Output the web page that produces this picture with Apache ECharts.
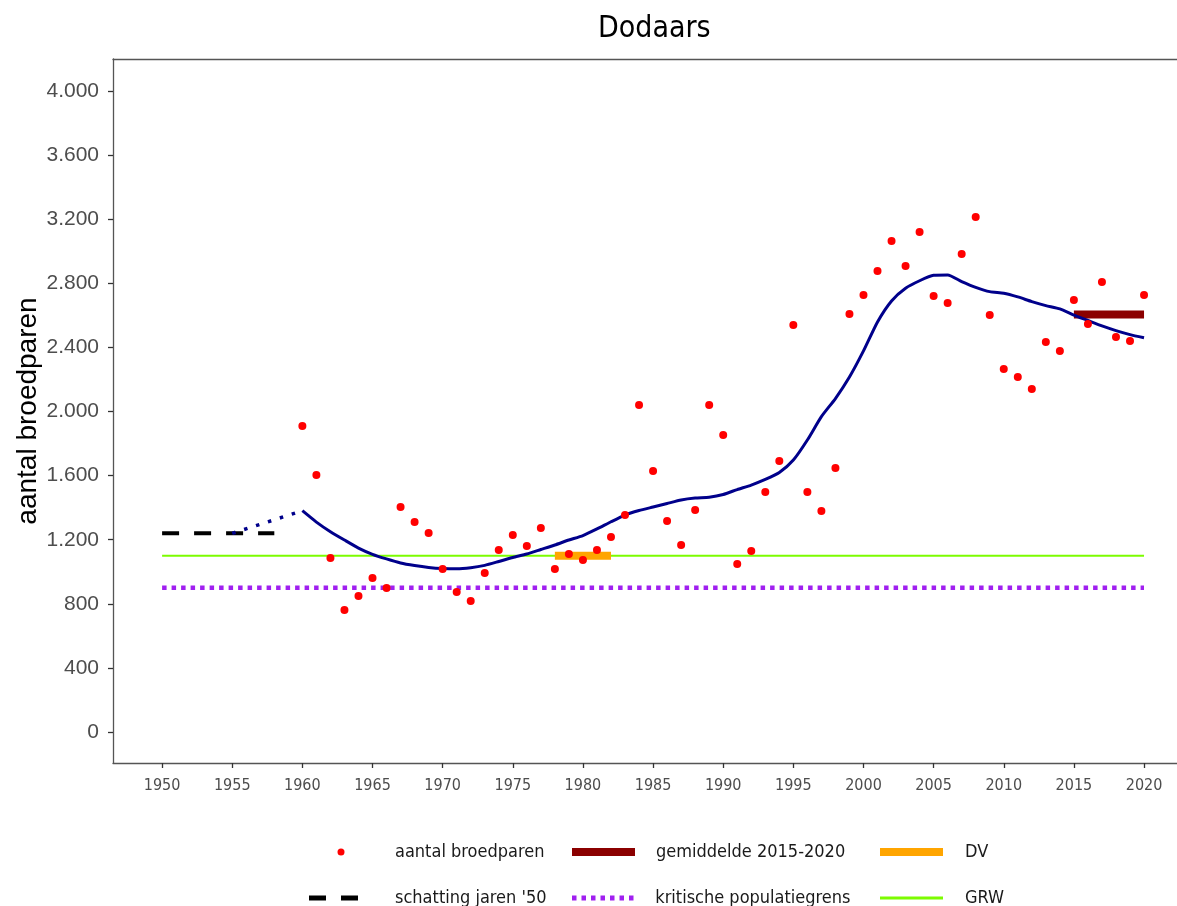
<!DOCTYPE html>
<html>
<head>
    <meta charset="utf-8">
    <title>Dodaars</title>
    <script src="https://cdn.jsdelivr.net/npm/echarts@6/dist/echarts.min.js"></script>
    <style>
        html, body { margin: 0; padding: 0; background: #fff; }
    </style>
</head>
<body>
    <div id="main" style="width: 1177px;height:906px;"></div>
    <script type="text/javascript">
        // telling aantal broedparen per jaar, vanaf 1960
        var startJaar = 1960;
        var broedparen = [1910, 1604, 1086, 761, 849, 961, 899, 1404, 1310, 1242,
            1017, 874, 817, 992, 1136, 1229, 1161, 1273, 1017, 1111,
            1073, 1136, 1217, 1354, 2040, 1629, 1317, 1167, 1385, 2040,
            1853, 1048, 1130, 1498, 1691, 2540, 1498, 1379, 1647, 2608,
            2727, 2877, 3064, 2908, 3120, 2721, 2677, 2983, 3214, 2602,
            2265, 2215, 2140, 2434, 2377, 2696, 2546, 2808, 2465, 2440, 2727];
        var trend = [1381, 1310, 1250, 1198, 1148, 1109, 1080, 1055, 1039, 1027,
            1020, 1018, 1025, 1040, 1064, 1089, 1111, 1139, 1167, 1198,
            1226, 1267, 1312, 1354, 1382, 1404, 1426, 1448, 1460, 1465,
            1482, 1513, 1541, 1576, 1619, 1697, 1822, 1968, 2081, 2215,
            2378, 2559, 2690, 2769, 2816, 2850, 2852, 2811, 2775, 2748,
            2738, 2715, 2686, 2661, 2640, 2602, 2568, 2534, 2505, 2480, 2460];

        var schattingJaren = [1950, 1958];
        var schattingWaarde = 1240;
        var overgangJaren = [1955, 1960];
        var overgangWaarden = [1240, 1381];
        var gemiddeldeJaren = [2015, 2020];
        var gemiddelde = 2605;
        var dvJaren = [1978, 1982];
        var dv = 1100;
        var grensJaren = [1950, 2020];
        var kritisch = 900;
        var grw = 1100;

        var xTicks = [1950, 1955, 1960, 1965, 1970, 1975, 1980, 1985, 1990, 1995, 2000, 2005, 2010, 2015, 2020];
        var yTicks = [0, 400, 800, 1200, 1600, 2000, 2400, 2800, 3200, 3600, 4000];

        var FONT_C = "'DejaVu Sans Condensed', 'DejaVu Sans', sans-serif";
        var FONT_A = "'Liberation Sans', Arial, sans-serif";

        function punten(jaren, waarden) {
            var arr = [];
            for (var i = 0; i < jaren.length; i++) {
                arr.push([jaren[i], waarden[i]]);
            }
            return arr;
        }
        function vlak(jaren, waarde) {
            return [[jaren[0], waarde], [jaren[1], waarde]];
        }

        var metingen = broedparen.map(function (v, i) { return [startJaar + i, v]; });
        var trendData = trend.map(function (v, i) { return [startJaar + i, v]; });

        // een legenda per item; left = linkerkant van het zichtbare icoon
        function legenda(naam, icon, left, midY, w, h) {
            return {
                data: [{name: naam, icon: icon}],
                left: left,
                top: midY - 8,
                padding: 0,
                itemWidth: w,
                itemHeight: h,
                selectedMode: false,
                itemStyle: {borderWidth: 0},
                textStyle: {fontFamily: FONT_C, fontSize: 18, color: '#1a1a1a'}
            };
        }
        var stippel = 'path://';
        for (var k = 0; k < 7; k++) {
            stippel += 'M' + (k * 9.5) + ',0h4.5v5h-4.5z';
        }

        var myChart = echarts.init(document.getElementById('main'));
        var option = {
            backgroundColor: '#fff',
            animation: false,
            title: {
                text: 'Dodaars',
                left: 593,
                top: 9,
                textStyle: {fontFamily: FONT_C, fontSize: 30, fontWeight: 'normal', color: '#000'}
            },
            grid: {left: 113, right: 0, top: 59, bottom: 143},
            legend: [
                legenda('aantal broedparen', 'circle', 337.5, 851, 98, 7),
                legenda('gemiddelde 2015-2020', 'path://M0,0h63v8h-63z', 572, 851, 95, 8),
                legenda('DV', 'path://M0,0h63v8h-63z', 880, 851, 97, 8),
                legenda('schatting jaren \'50', 'path://M0,0h17v5h-17zM32,0h17v5h-17z', 309, 897, 113, 5),
                legenda('kritische populatiegrens', stippel, 572, 897, 95, 5),
                legenda('GRW', 'path://M0,0h63v3h-63z', 880, 897, 97, 3)
            ],
            xAxis: [{
                type: 'value',
                min: 1946.5,
                max: 2022.35,
                axisLine: {show: true, onZero: false, lineStyle: {color: '#555', width: 1.3}},
                axisTick: {show: true, length: 5, customValues: xTicks, lineStyle: {color: '#333', width: 1.3}},
                axisLabel: {
                    customValues: xTicks,
                    margin: 15,
                    fontFamily: FONT_C,
                    fontSize: 16,
                    color: '#4d4d4d',
                    formatter: function (v) { return String(v); }
                },
                splitLine: {show: false}
            }, {
                // bovenrand van het paneel
                type: 'value',
                position: 'top',
                min: 1946.5,
                max: 2022.35,
                axisLine: {show: true, onZero: false, lineStyle: {color: '#555', width: 1.3}},
                axisTick: {show: false},
                axisLabel: {show: false},
                splitLine: {show: false}
            }],
            yAxis: {
                type: 'value',
                min: -193.4,
                max: 4199.7,
                name: 'aantal broedparen',
                nameLocation: 'middle',
                nameGap: 71,
                nameMoveOverlap: false,
                nameTextStyle: {fontFamily: FONT_A, fontSize: 28, color: '#000'},
                axisLine: {show: true, onZero: false, lineStyle: {color: '#555', width: 1.3}},
                axisTick: {show: true, length: 5, customValues: yTicks, lineStyle: {color: '#333', width: 1.3}},
                axisLabel: {
                    customValues: yTicks,
                    margin: 14,
                    padding: [4, 0, 0, 0],
                    fontFamily: FONT_A,
                    fontSize: 21,
                    color: '#4d4d4d',
                    formatter: function (v) {
                        return String(v).replace(/\B(?=(\d{3})+(?!\d))/g, '.');
                    }
                },
                splitLine: {show: false}
            },
            series: [{
                name: 'GRW',
                type: 'line',
                data: vlak(grensJaren, grw),
                symbol: 'none',
                itemStyle: {color: '#7CFC00'},
                lineStyle: {color: '#7CFC00', width: 2},
                z: 2
            }, {
                name: 'kritische populatiegrens',
                type: 'line',
                data: vlak(grensJaren, kritisch),
                symbol: 'none',
                itemStyle: {color: '#A020F0'},
                lineStyle: {color: '#A020F0', width: 4.5, type: [4.5, 5], cap: 'butt'},
                z: 2
            }, {
                name: 'DV',
                type: 'line',
                data: vlak(dvJaren, dv),
                symbol: 'none',
                itemStyle: {color: '#FFA500'},
                lineStyle: {color: '#FFA500', width: 8, cap: 'butt'},
                z: 3
            }, {
                name: 'gemiddelde 2015-2020',
                type: 'line',
                data: vlak(gemiddeldeJaren, gemiddelde),
                symbol: 'none',
                itemStyle: {color: '#8B0000'},
                lineStyle: {color: '#8B0000', width: 8, cap: 'butt'},
                z: 3
            }, {
                name: 'schatting jaren \'50',
                type: 'line',
                data: vlak(schattingJaren, schattingWaarde),
                symbol: 'none',
                itemStyle: {color: '#000'},
                lineStyle: {color: '#000', width: 4, type: [17, 15], cap: 'butt'},
                z: 3
            }, {
                name: 'overgang',
                type: 'line',
                data: punten(overgangJaren, overgangWaarden),
                symbol: 'none',
                lineStyle: {color: '#00008B', width: 3.5, type: [3.5, 9], cap: 'butt'},
                z: 4
            }, {
                name: 'trend',
                type: 'line',
                data: trendData,
                symbol: 'none',
                smooth: 0.2,
                lineStyle: {color: '#00008B', width: 3},
                z: 4
            }, {
                name: 'aantal broedparen',
                type: 'scatter',
                data: metingen,
                symbolSize: 8,
                itemStyle: {color: '#FF0000', opacity: 1},
                z: 5
            }]
        };
        myChart.setOption(option);
    </script>
</body>
</html>
